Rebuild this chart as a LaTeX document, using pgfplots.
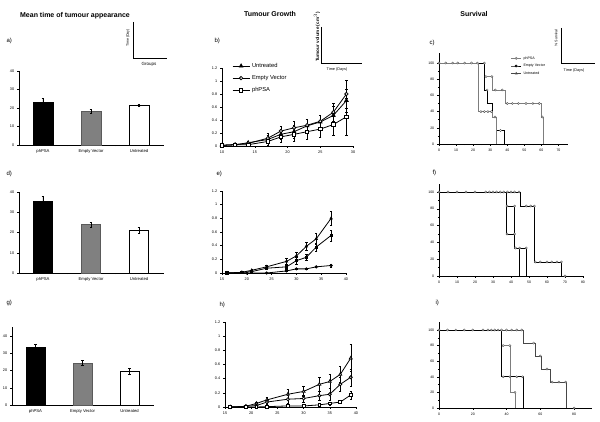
\documentclass[border=0pt]{standalone}
\usepackage{pgfplots}
\pgfplotsset{compat=1.18}
\usepackage{fontspec}
\setmainfont{Liberation Sans}
\definecolor{evgray}{RGB}{128,128,128}
\definecolor{sgray}{RGB}{125,125,125}
\definecolor{dgray}{RGB}{70,70,70}
\pgfplotsset{
  base/.style={scale only axis, anchor=south west, axis x line*=bottom, axis y line*=left,
    every outer x axis line/.append style={-}, every outer y axis line/.append style={-},
    axis line style={-, black, line width=0.5pt},
    tick align=outside, major tick length=1.8pt, minor tick length=1.2pt,
    tick style={black, line width=0.4pt},
    tick label style={font=\fontsize{3.8}{4}\selectfont},
    xticklabel style={yshift=0.5pt}, yticklabel style={xshift=0.5pt},
    /pgf/number format/assume math mode=true, clip=false},
  barax/.style={base, xmin=-0.5, xmax=2.5, ymin=0, xtick={0,1,2},
    xticklabels={phPSA,Empty Vector,Untreated}, minor xtick={0.5,1.5,2.5},
    major x tick style={draw=none}, ytick={0,10,20,30,40},
    x tick label style={font=\fontsize{4.2}{5}\selectfont}},
  bb/.style={ybar, bar shift=0pt, bar width=#1, line width=0.7pt,
    /pgfplots/error bars/y dir=both, /pgfplots/error bars/y explicit,
    /pgfplots/error bars/error bar style={line width=0.4pt, black},
    /pgfplots/error bars/error mark options={rotate=90, mark size=1.3pt, line width=0.4pt, black}},
  grax/.style={base, ymin=0, ymax=1.2, ytick={0,0.2,0.4,0.6,0.8,1,1.2},
    yticklabels={0,0.2,0.4,0.6,0.8,1,1.2}},
  ser/.style={black, line width=0.8pt,
    /pgfplots/error bars/y dir=both, /pgfplots/error bars/y explicit,
    /pgfplots/error bars/error bar style={line width=0.35pt, black},
    /pgfplots/error bars/error mark options={rotate=90, mark size=1.2pt, line width=0.35pt, black}},
  survax/.style={base, xmin=0, ymin=0, ytick={0,20,40,60,80,100}, minor ytick={10,30,50,70,90},
    tick label style={font=\fontsize{3.5}{4}\selectfont}},
  sl/.style={line width=0.7pt, #1},
  smk/.style={only marks, mark=*, mark size=1.1pt, mark options={fill=white, draw=dgray, line width=0.35pt}},
}
\begin{document}
\begin{tikzpicture}
\path[use as bounding box] (0,0) rectangle (600pt,422pt);
% titles
\node[font=\bfseries\fontsize{7}{8}\selectfont] at (75pt,406pt) {Mean time of tumour appearance};
\node[font=\bfseries\fontsize{7}{8}\selectfont] at (270pt,408pt) {Tumour Growth};
\node[font=\bfseries\fontsize{7}{8}\selectfont] at (474pt,408pt) {Survival};
% panel letters
\begin{scope}[every node/.style={font=\fontsize{6}{7}\selectfont, anchor=west}]
\node at (3pt,381pt) {a)};
\node at (211pt,381pt) {b)};
\node at (426pt,379pt) {c)};
\node at (3pt,248pt) {d)};
\node at (213pt,248pt) {e)};
\node at (429pt,249pt) {f)};
\node at (3pt,119pt) {g)};
\node at (216pt,117pt) {h)};
\node at (432pt,119pt) {i)};
\end{scope}
% insets
\draw[line width=0.5pt] (133pt,400pt) -- (133pt,364pt) -- (167pt,364pt);
\node[rotate=90, font=\fontsize{3.6}{4}\selectfont] at (128pt,384pt) {Time (Day)};
\node[font=\fontsize{4.5}{5}\selectfont] at (149pt,358pt) {Groups};
\draw[line width=0.5pt] (321pt,395pt) -- (321pt,359pt) -- (362pt,359pt);
\node[rotate=90, font=\bfseries\fontsize{4.6}{5}\selectfont] at (317pt,385pt) {Tumour volume (cm$^3$)};
\node[font=\fontsize{3.8}{4}\selectfont] at (337pt,352pt) {Time (Days)};
\draw[line width=0.5pt] (561pt,394pt) -- (561pt,359pt) -- (595pt,359pt);
\node[rotate=90, font=\fontsize{3.6}{4}\selectfont] at (556pt,384pt) {\% Survival};
\node[font=\fontsize{3.8}{4}\selectfont] at (574pt,351pt) {Time (Days)};

% ---------- a ----------
\begin{axis}[barax, at={(19pt,277pt)}, width=144pt, height=74pt, ymax=40]
\addplot[bb=20pt, fill=black, draw=black] coordinates {(0,23.2) +- (0,2.3)};
\addplot[bb=20pt, fill=evgray, draw=evgray!70!black] coordinates {(1,18.2) +- (0,1.1)};
\addplot[bb=20pt, fill=white, draw=black] coordinates {(2,21.6) +- (0,0.6)};
\end{axis}
% ---------- d ----------
\begin{axis}[barax, at={(19pt,149pt)}, width=144pt, height=81pt, ymax=40]
\addplot[bb=19pt, fill=black, draw=black] coordinates {(0,35.5) +- (0,2.5)};
\addplot[bb=19pt, fill=evgray, draw=evgray!70!black] coordinates {(1,23.9) +- (0,1.2)};
\addplot[bb=19pt, fill=white, draw=black] coordinates {(2,21.1) +- (0,1.5)};
\end{axis}
% ---------- g ----------
\begin{axis}[barax, at={(12pt,17pt)}, width=141pt, height=77.6pt, ymax=45]
\addplot[bb=19pt, fill=black, draw=black] coordinates {(0,33.4) +- (0,1.8)};
\addplot[bb=19pt, fill=evgray, draw=evgray!70!black] coordinates {(1,24.4) +- (0,1.3)};
\addplot[bb=19pt, fill=white, draw=black] coordinates {(2,19.7) +- (0,1.6)};
\end{axis}

% ---------- b ----------
\begin{axis}[grax, at={(222pt,276pt)}, width=131pt, height=78pt, xmin=10, xmax=30,
  xtick={10,15,20,25,30},
  legend style={at={(0.076,1.09)}, anchor=north west, draw=none, fill=none,
    font=\fontsize{5.8}{6}\selectfont, row sep=2.5pt, inner sep=0pt},
  legend cell align=left]
\addplot[ser, mark=triangle*, mark size=2pt, mark options={solid, fill=black}] coordinates {
(10,0.01) +- (0,0.01) (12,0.02) +- (0,0.01) (14,0.05) +- (0,0.02) (17,0.10) +- (0,0.06)
(19,0.18) +- (0,0.08) (21,0.22) +- (0,0.10) (23,0.31) +- (0,0.10) (25,0.37) +- (0,0.10)
(27,0.47) +- (0,0.15) (29,0.70) +- (0,0.18)};
\addlegendentry{Untreated}
\addplot[ser, mark=*, mark size=1.7pt, mark options={solid, fill=white}] coordinates {
(10,0.01) +- (0,0.01) (12,0.02) +- (0,0.01) (14,0.04) +- (0,0.02) (17,0.12) +- (0,0.07)
(19,0.23) +- (0,0.08) (21,0.28) +- (0,0.10) (23,0.32) +- (0,0.10) (25,0.38) +- (0,0.10)
(27,0.52) +- (0,0.14) (29,0.80) +- (0,0.22)};
\addlegendentry{Empty Vector}
\addplot[ser, mark=square*, mark size=1.7pt, mark options={solid, fill=white}] coordinates {
(10,0.01) +- (0,0.01) (12,0.02) +- (0,0.01) (14,0.02) +- (0,0.01) (17,0.07) +- (0,0.05)
(19,0.14) +- (0,0.08) (21,0.18) +- (0,0.10) (23,0.22) +- (0,0.12) (25,0.26) +- (0,0.13)
(27,0.33) +- (0,0.17) (29,0.45) +- (0,0.28)};
\addlegendentry{phPSA}
\end{axis}
% ---------- e ----------
\begin{axis}[grax, at={(222pt,149pt)}, width=124pt, height=82pt, xmin=15, xmax=40,
  xtick={15,20,25,30,35,40}]
\addplot[ser, mark=triangle*, mark size=1.3pt, mark options={solid, fill=black}] coordinates {
(16,0) +- (0,0) (19,0.01) +- (0,0.01) (21,0.04) +- (0,0.02) (24,0.09) +- (0,0.03)
(28,0.17) +- (0,0.05) (30,0.25) +- (0,0.05) (32,0.39) +- (0,0.06) (34,0.50) +- (0,0.08)
(37,0.80) +- (0,0.10)};
\addplot[ser, mark=square*, mark size=1.1pt, mark options={solid, fill=black}] coordinates {
(16,0) +- (0,0) (19,0.01) +- (0,0.01) (21,0.02) +- (0,0.01) (24,0.07) +- (0,0.02)
(28,0.09) +- (0,0.04) (30,0.18) +- (0,0.05) (32,0.23) +- (0,0.04) (34,0.38) +- (0,0.06)
(37,0.55) +- (0,0.08)};
\addplot[ser, mark=*, mark size=1.1pt, mark options={solid, fill=black}] coordinates {
(16,0) +- (0,0) (20,0) +- (0,0) (24,0) +- (0,0) (28,0.03) +- (0,0.01)
(30,0.06) +- (0,0.01) (32,0.06) +- (0,0.01) (34,0.09) +- (0,0.01) (37,0.11) +- (0,0.02)};
\end{axis}
% ---------- h ----------
\begin{axis}[grax, at={(225pt,15pt)}, width=131pt, height=85pt, xmin=15, xmax=40,
  xtick={15,20,25,30,35,40}]
\addplot[ser, mark=triangle*, mark size=1.7pt, mark options={solid, fill=white}] coordinates {
(16,0) +- (0,0) (19,0.01) +- (0,0.01) (21,0.05) +- (0,0.02) (23,0.10) +- (0,0.04)
(27,0.18) +- (0,0.07) (30,0.22) +- (0,0.07) (33,0.32) +- (0,0.10) (35,0.36) +- (0,0.10)
(37,0.46) +- (0,0.11) (39,0.69) +- (0,0.19)};
\addplot[ser, mark=*, mark size=1.5pt, mark options={solid, fill=white}] coordinates {
(16,0) +- (0,0) (19,0.01) +- (0,0.01) (21,0.02) +- (0,0.01) (23,0.07) +- (0,0.03)
(27,0.11) +- (0,0.05) (30,0.12) +- (0,0.05) (33,0.16) +- (0,0.07) (35,0.18) +- (0,0.08)
(37,0.32) +- (0,0.10) (39,0.42) +- (0,0.12)};
\addplot[ser, mark=square*, mark size=1.4pt, mark options={solid, fill=white}] coordinates {
(16,0) +- (0,0) (19,0) +- (0,0) (21,0) +- (0,0) (23,0.005) +- (0,0.005)
(27,0.015) +- (0,0.01) (30,0.015) +- (0,0.01) (33,0.03) +- (0,0.01) (35,0.05) +- (0,0.02)
(37,0.07) +- (0,0.02) (39,0.17) +- (0,0.06)};
\end{axis}

% ---------- c ----------
\begin{axis}[survax, at={(439pt,278pt)}, width=128pt, height=90.7pt, xmax=75, ymax=112,
  xtick={0,10,20,30,40,50,60,70}, minor xtick={5,15,25,35,45,55,65,75},
  legend style={at={(0.56,0.99)}, anchor=north west, draw=none, fill=none,
    font=\fontsize{3.6}{4}\selectfont, row sep=-0.5pt, inner sep=0pt},
  legend cell align=left,
  legend image code/.code={\draw[mark repeat=2,mark phase=2,#1] plot coordinates {(0pt,0pt)(5pt,0pt)(10pt,0pt)};}]
\addlegendimage{sl=sgray, mark=*, mark size=1pt, mark options={fill=white}}
\addlegendentry{phPSA}
\addlegendimage{sl=black, mark=*, mark size=1pt, mark options={fill=white}}
\addlegendentry{Empty Vector}
\addlegendimage{sl=dgray, mark=triangle*, mark size=1pt, mark options={fill=white}}
\addlegendentry{Untreated}
\addplot[sl=sgray, forget plot] coordinates {(0,100)(26.6,100)(26.6,83.3)(31.3,83.3)(31.3,66.7)(39,66.7)(39,50)(59.7,50)(59.7,33.3)(61.3,33.3)(61.3,0)};
\addplot[sl=black, forget plot] coordinates {(0,100)(26.6,100)(26.6,66.7)(28.6,66.7)(28.6,50)(31.5,50)(31.5,33.3)(33.7,33.3)(33.7,16.7)(38,16.7)(38,0)};
\addplot[sl=sgray, forget plot] coordinates {(0,100)(22.9,100)(22.9,40)(31.3,40)(31.3,33.3)(33.7,33.3)(33.7,0)};
\addplot[smk, forget plot] coordinates {(0,100)(4,100)(8,100)(11,100)(15,100)(19,100)(22.5,100)(26.6,100)
(27.5,83.3)(31,83.3)(24.5,40)(26.6,40)(28.6,40)(30.7,40)(32.8,33.3)(28.2,66.7)(33,66.7)(37,66.7)
(40,50)(43,50)(46.5,50)(51,50)(55,50)(58.7,50)(60.5,33.3)(36,16.7)};
\end{axis}
% ---------- f ----------
\begin{axis}[survax, at={(439pt,146pt)}, width=144pt, height=92.4pt, xmax=80, ymax=110,
  xtick={0,10,20,30,40,50,60,70,80}, minor xtick={5,15,25,35,45,55,65,75}]
\addplot[sl=black] coordinates {(0,100)(45,100)(45,83.3)(53,83.3)(53,16.7)(68,16.7)(68,0)};
\addplot[sl=black] coordinates {(0,100)(37.2,100)(37.2,83.3)(42,83.3)(42,33.3)(48.8,33.3)(48.8,0)};
\addplot[sl=black] coordinates {(0,100)(37.2,100)(37.2,50)(42,50)(42,33.3)(44.6,33.3)(44.6,0)};
\addplot[smk] coordinates {(0,100)(5,100)(10,100)(15,100)(20,100)(26,100)(28,100)(30,100)(32,100)(34,100)(36,100)(38,100)(40,100)(42,100)(44.5,100)
(37.8,83.3)(42,83.3)(48.5,83.3)(51,83.3)(53,83.3)
(37.8,50)(42,50)(42.5,33.3)(44.8,33.3)(48.5,33.3)
(53.5,16.7)(56.2,16.7)(60,16.7)(62.7,16.7)(65.5,16.7)(68,16.7)(70,0)};
\end{axis}
% ---------- i ----------
\begin{axis}[survax, at={(439pt,14pt)}, width=152pt, height=85.8pt, xmax=90, ymax=110,
  xtick={0,20,40,60,80}, minor xtick={10,30,50,70,90}]
\addplot[sl=dgray] coordinates {(0,100)(50.2,100)(50.2,83.3)(57.3,83.3)(57.3,66.7)(60.4,66.7)(60.4,50)(65.7,50)(65.7,33.3)(75.2,33.3)(75.2,0)};
\addplot[sl=sgray] coordinates {(0,100)(37,100)(37,80)(42,80)(42,20)(45.3,20)(45.3,0)};
\addplot[sl=black] coordinates {(0,100)(37,100)(37,40)(50.2,40)(50.2,0)};
\addplot[smk] coordinates {(0,100)(5,100)(10,100)(15,100)(20,100)(26,100)(29,100)(31,100)(33,100)(35,100)(37,100)(40,100)(43,100)(46,100)(49,100)
(38,80)(42,80)(38,40)(42,40)(46,40)(49.5,40)(45,20)(56,83.3)(60,66.7)(64,50)(67,33.3)(71,33.3)(75,33.3)(80,0)};
\end{axis}
\end{tikzpicture}
\end{document}
